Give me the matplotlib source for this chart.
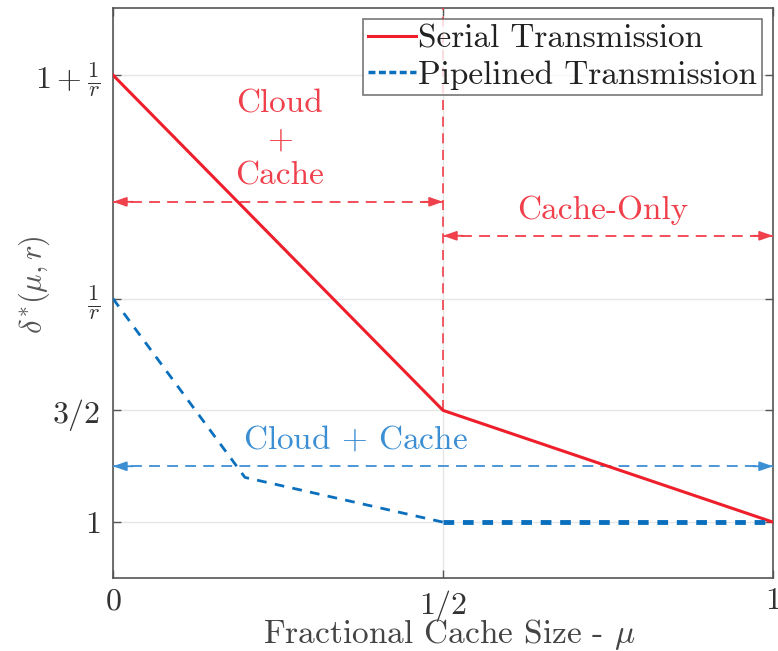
import matplotlib
matplotlib.use("Agg")
import matplotlib.pyplot as plt
from matplotlib.lines import Line2D

plt.rcParams['font.family'] = 'serif'
plt.rcParams['font.serif'] = ['cmr10', 'DejaVu Serif']
plt.rcParams['mathtext.fontset'] = 'cm'
plt.rcParams['axes.unicode_minus'] = False

# data
serial_x = [0, 0.5, 1]
serial_y = [3, 1.5, 1]
pipe_x = [0, 0.2, 0.5]
pipe_y = [2, 1.2, 1]
pipe_flat_x = [0.5, 1]
pipe_flat_y = [1, 1]
xticks = [0, 0.5, 1]
xticklabels = ['$0$', '$1/2$', '$1$']
yticks = [1, 1.5, 2, 3]
yticklabels = ['$1$', '$3/2$', r'$\frac{1}{r}$', r'$1+\frac{1}{r}$']

RED = '#ee1f2b'
BLUE = '#0a6fbd'
LRED = '#f0404c'
LBLUE = '#3d8fd4'
TXT = '#333333'

fig = plt.figure(figsize=(7.78, 6.51), dpi=100)
ax = fig.add_axes([0.1452, 0.1121, 0.8484, 0.8756])
ax.set_xlim(0, 1)
ax.set_ylim(0.75, 3.3)

ax.grid(True, color='#e6e6e6', linewidth=1.0)
ax.set_axisbelow(True)

l1, = ax.plot(serial_x, serial_y, color=RED, lw=2.2, zorder=4)
ax.plot(pipe_x, pipe_y, color=BLUE, lw=2.0, ls=(0, (3.5, 3)), zorder=4)
ax.plot(pipe_flat_x, pipe_flat_y, color=BLUE, lw=3.5, ls=(0, (2.2, 1.8)), zorder=4)
l2 = Line2D([], [], color=BLUE, lw=2.5, ls=(0, (2.0, 1.0)))

# vertical divider
ax.plot([0.5, 0.5], [1.5, 3.3], color=LRED, lw=1.2, ls=(0, (6, 4)), zorder=3)

def darrow(x0, x1, y, c):
    ax.plot([x0, x1], [y, y], color=c, lw=1.3, ls=(0, (6, 4)), zorder=3)
    for xa, xb in ((x0 + 0.03, x0), (x1 - 0.03, x1)):
        ax.annotate('', xy=(xb, y), xytext=(xa, y),
                    arrowprops=dict(arrowstyle='-|>,head_length=0.8,head_width=0.28',
                                    color=c, lw=1.3, shrinkA=0, shrinkB=0), zorder=5)

darrow(0, 0.5, 2.433, LRED)
darrow(0.5, 1, 2.281, LRED)
darrow(0, 1, 1.25, LBLUE)

ax.text(0.253, 2.71, 'Cloud\n+\nCache', color=LRED, fontsize=24, ha='center', va='center',
        linespacing=1.3)
ax.text(0.742, 2.397, 'Cache-Only', color=LRED, fontsize=24, ha='center', va='center')
ax.text(0.367, 1.37, r'Cloud $+$ Cache', color=LBLUE, fontsize=24, ha='center', va='center')

ax.set_xticks(xticks)
ax.set_xticklabels(xticklabels)
ax.set_yticks(yticks)
ax.set_yticklabels(yticklabels)
ax.tick_params(direction='in', top=True, right=True, length=6, width=1,
               colors='#555555', labelcolor=TXT, labelsize=23, pad=9)
ax.tick_params(axis='x', pad=7)
for s in ax.spines.values():
    s.set_color('#555555')
    s.set_linewidth(1.2)

ax.set_xlabel(r'Fractional Cache Size - $\mu$', fontsize=24, color='#444444')
ax.xaxis.set_label_coords(0.51, -0.068)
ax.set_ylabel(r'$\delta^{*}(\mu, r)$', fontsize=22, color='#555555')
ax.yaxis.set_label_coords(-0.093, 0.514)

leg = ax.legend([l1, l2], ['Serial Transmission', 'Pipelined Transmission'],
                loc='upper right', fontsize=24, frameon=True, fancybox=False,
                edgecolor='#555555', handlelength=1.45, handletextpad=0.05,
                borderpad=0.15, labelspacing=0.2, borderaxespad=0.33)
leg.get_frame().set_linewidth(1.2)
for t in leg.get_texts():
    t.set_color('#222222')

fig.savefig('out.png', dpi=100)
